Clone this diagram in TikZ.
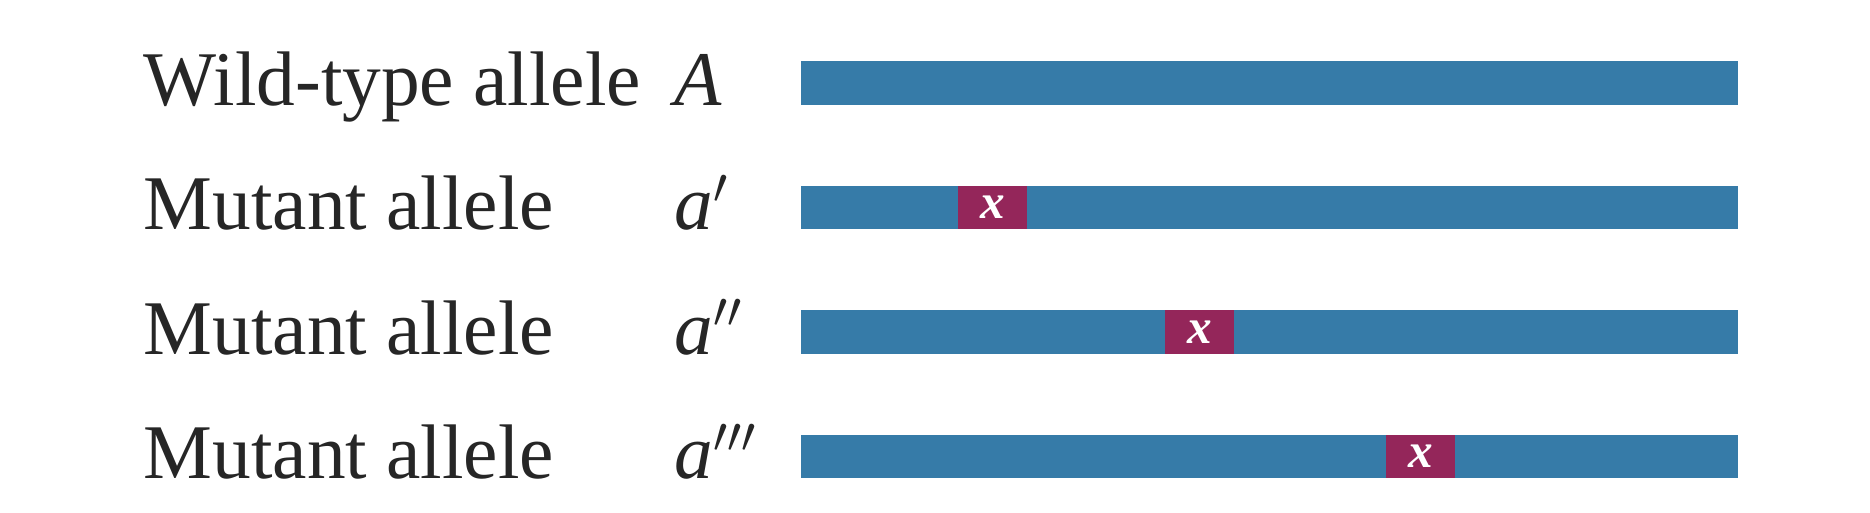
\documentclass[tikz,border=0pt]{standalone}
\usepackage{fontspec}
\setmainfont{Liberation Serif}
\usepackage{tikz}
\usetikzlibrary{positioning}
\definecolor{alleleblue}{RGB}{54,123,168}
\definecolor{mutred}{RGB}{148,38,90}
\def\rowsep{124.5}
\def\genemid{1269.5}

\begin{document}
\begin{tikzpicture}[x=0.01cm,y=-0.01cm]
    \tikzstyle{allele name}=[anchor=base west, inner sep=0pt, text=black!85, font=\fontsize{22}{26}\selectfont]
    \tikzstyle{allele symbol}=[allele name, font=\fontsize{22}{26}\selectfont\itshape]
    \tikzstyle{gene}=[rectangle, fill=alleleblue, minimum width=9.37cm, minimum height=0.43cm, inner sep=0pt]
    \tikzstyle{mutation}=[rectangle, fill=mutred, minimum width=0.69cm, minimum height=0.43cm, inner sep=0pt, text=white, font=\fontsize{14}{16}\selectfont\bfseries\itshape]

    \useasboundingbox (0,0) rectangle (1870,512);

    % Draw the allele names and symbols
    \foreach \name / \txt / \sym in {1/Wild-type allele/A, 2/Mutant allele/a$'$, 3/Mutant allele/a$''$, 4/Mutant allele/a$'''$}
    {
        \node[allele name] (N-\name) at (143,{105+(\name-1)*\rowsep}) {\txt};
        \node[allele symbol] (S-\name) at (674,{105+(\name-1)*\rowsep}) {\sym};
    }

    % Draw the genes
    \foreach \name in {1,2,3,4}
        \node[gene] (G-\name) at (\genemid,{83+(\name-1)*\rowsep}) {};

    % Draw the mutations
    \foreach \name / \x in {2/992.5, 3/1199.5, 4/1420.5}
        \node[mutation] (M-\name) at (\x,{83+(\name-1)*\rowsep}) {x};

\end{tikzpicture}
\end{document}
